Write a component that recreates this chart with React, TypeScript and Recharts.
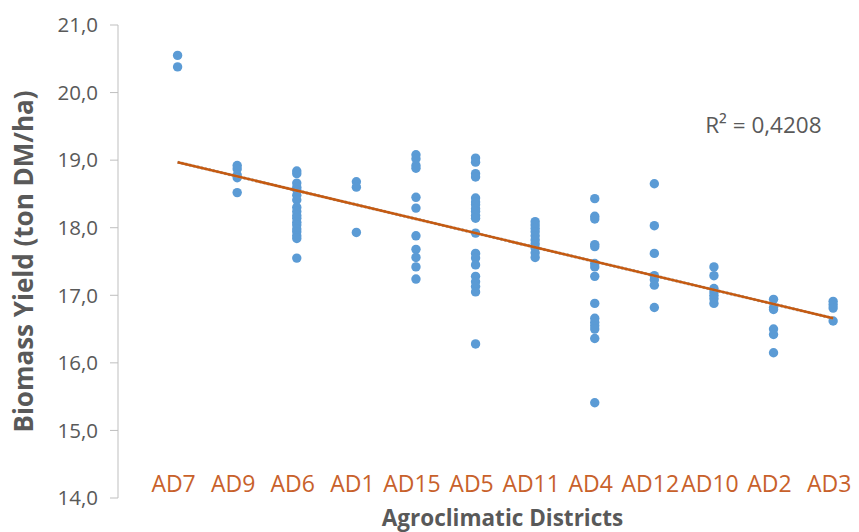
import { ReferenceDot, Scatter, ScatterChart, XAxis, YAxis } from 'recharts';

const districts = ['AD7', 'AD9', 'AD6', 'AD1', 'AD15', 'AD5', 'AD11', 'AD4', 'AD12', 'AD10', 'AD2', 'AD3'];

// yields per district (ton DM/ha)
const ad7 = [20.55, 20.38];
const ad9 = [18.92, 18.87, 18.78, 18.74, 18.52];
const ad6 = [18.84, 18.8, 18.66, 18.6, 18.56, 18.48, 18.41, 18.3, 18.24, 18.18, 18.14, 18.08, 18.04, 17.98, 17.94, 17.88, 17.84, 17.55];
const ad1 = [18.68, 18.6, 17.93];
const ad15 = [19.08, 19.02, 18.92, 18.88, 18.45, 18.29, 17.88, 17.68, 17.56, 17.42, 17.24];
const ad5 = [19.03, 18.97, 18.8, 18.75, 18.44, 18.38, 18.34, 18.28, 18.24, 18.18, 18.14, 17.92, 17.62, 17.55, 17.45, 17.28, 17.2, 17.13, 17.05, 16.28];
const ad11 = [18.09, 18.04, 17.99, 17.94, 17.88, 17.82, 17.76, 17.7, 17.63, 17.56];
const ad4 = [18.43, 18.17, 18.13, 17.75, 17.72, 17.47, 17.42, 17.28, 16.88, 16.66, 16.6, 16.55, 16.5, 16.36, 15.41];
const ad12 = [18.65, 18.03, 17.62, 17.29, 17.23, 17.15, 16.82];
const ad10 = [17.42, 17.29, 17.1, 17.05, 17.0, 16.95, 16.88];
const ad2 = [16.94, 16.82, 16.79, 16.5, 16.42, 16.15];
const ad3 = [16.91, 16.86, 16.81, 16.62];

const yields = [ad7, ad9, ad6, ad1, ad15, ad5, ad11, ad4, ad12, ad10, ad2, ad3];

// linear trend as drawn (value at first and last district)
const trendX = [1, 12];
const trendY = [18.97, 16.66];
const rSquared = '0,4208';

const yTicks = [14, 15, 16, 17, 18, 19, 20, 21];

const points = yields.flatMap((vals, i) => vals.map((v) => ({ x: i + 1, y: v })));
const trend = trendX.map((x, i) => ({ x, y: trendY[i] }));

const FONT = '"Open Sans", sans-serif';
const GREY = '#595959';

function Dot(props: any) {
  return <circle cx={props.cx} cy={props.cy} r={4.7} fill="#5B9BD5" />;
}

// district names sit just above the bottom of the plot
function DistrictTick(props: any) {
  const { x, y, payload } = props;
  return (
    <text x={x - 4} y={y - 6} textAnchor="middle" fill="#C8612B" fontSize={23} fontFamily={FONT}>
      {districts[payload.value - 1]}
    </text>
  );
}

function XTitle(props: any) {
  const { viewBox } = props;
  return (
    <text
      x={viewBox.x + viewBox.width / 2 + 18}
      y={526}
      textAnchor="middle"
      fill={GREY}
      fontSize={22.5}
      fontWeight="bold"
      fontFamily={FONT}
    >
      Agroclimatic Districts
    </text>
  );
}

export default function App() {
  return (
    <div style={{ position: 'absolute', left: 0, top: 0, width: 859, height: 532, background: '#fff' }}>
      <ScatterChart width={859} height={532} margin={{ top: 25, right: 8, bottom: 0, left: 0 }}>
        <XAxis
          type="number"
          dataKey="x"
          domain={[0, 12.3]}
          ticks={districts.map((_, i) => i + 1)}
          tick={<DistrictTick />}
          axisLine={false}
          tickLine={false}
          tickSize={0}
          tickMargin={0}
          height={34}
          interval={0}
          label={<XTitle />}
        />
        <YAxis
          type="number"
          dataKey="y"
          domain={[14, 21]}
          ticks={yTicks}
          tickFormatter={(v: number) => v.toFixed(1).replace('.', ',')}
          width={118}
          stroke="#BFBFBF"
          tickSize={8}
          tickMargin={12}
          tick={{ fill: GREY, fontSize: 20.5, fontFamily: FONT }}
          label={{
            value: 'Biomass Yield (ton DM/ha)',
            angle: -90,
            position: 'insideLeft',
            offset: 24,
            fill: GREY,
            fontSize: 26,
            fontWeight: 'bold',
            fontFamily: FONT,
            style: { textAnchor: 'middle' },
          }}
        />
        <Scatter data={points} shape={<Dot />} isAnimationActive={false} />
        <Scatter
          data={trend}
          line={{ stroke: '#A5A5A5', strokeWidth: 3, strokeDasharray: '2 2' }}
          shape={() => null}
          isAnimationActive={false}
        />
        <Scatter
          data={trend}
          line={{ stroke: '#C55A11', strokeWidth: 2.5 }}
          shape={() => null}
          isAnimationActive={false}
        />
        <ReferenceDot
          x={10.83}
          y={19.52}
          r={0}
          stroke="none"
          label={{ value: `R² = ${rSquared}`, position: 'center', fill: GREY, fontSize: 22.5, fontFamily: FONT }}
        />
      </ScatterChart>
    </div>
  );
}
